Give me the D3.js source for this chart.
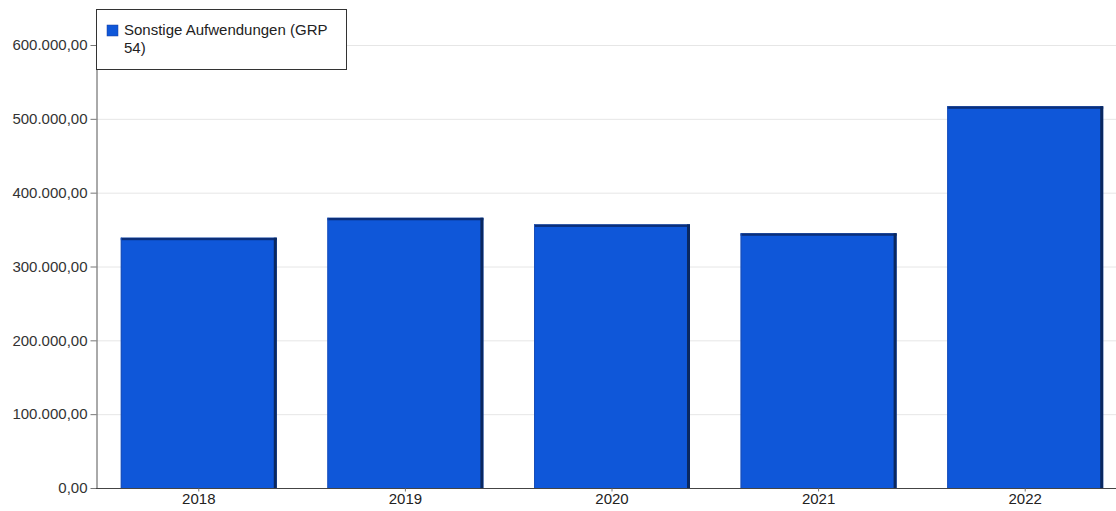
<!DOCTYPE html>
<html><head><meta charset="utf-8">
<script src="https://cdn.jsdelivr.net/npm/d3@7"></script>
<style>body{margin:0;background:#fff;}svg{display:block;font-family:"Liberation Sans",Arial,sans-serif;}</style>
</head><body><svg id="c" width="1116" height="511"></svg>
<script>
const categories = ["2018","2019","2020","2021","2022"];
const values = [339000, 366000, 357000, 345000, 517000];
const yTicks = [0,100000,200000,300000,400000,500000,600000];
const seriesName = ["Sonstige Aufwendungen (GRP", "54)"];

const svg = d3.select("#c");
const mLeft = 96, mRight = 1128, mTop = 45, mBottom = 488;
const x = d3.scaleBand().domain(categories).range([mLeft, mRight]).paddingInner(0.245).paddingOuter(0.12);
const y = d3.scaleLinear().domain([0, 600000]).range([mBottom, mTop]);
const fmt = v => d3.format(",.2f")(v).replace(/,/g,"X").replace(/\./g,",").replace(/X/g,".");

// grid
svg.append("g").selectAll("line").data(yTicks.slice(1)).join("line")
  .attr("x1", mLeft).attr("x2", 1116).attr("y1", d=>y(d)+0.5).attr("y2", d=>y(d)+0.5)
  .attr("stroke", "#e6e6e6").attr("stroke-width", 1);

// bars
const bars = svg.append("g");
categories.forEach((c,i)=>{
  const x0 = x(c), w = x.bandwidth(), y0 = y(values[i]), h = mBottom - y0;
  bars.append("rect").attr("x", x0).attr("y", y0).attr("width", w).attr("height", h).attr("fill", "#0f57d9");
  bars.append("rect").attr("x", x0).attr("y", y0).attr("width", w).attr("height", 2.5).attr("fill", "#0b2f7a");
  bars.append("rect").attr("x", x0 + w - 3).attr("y", y0).attr("width", 3).attr("height", h).attr("fill", "#0a2860");
  bars.append("rect").attr("x", x0).attr("y", y0).attr("width", 1).attr("height", h).attr("fill", "#1a4fb8");
});

// y axis
const ya = svg.append("g").attr("transform", `translate(${mLeft+0.5},0)`)
  .call(d3.axisLeft(y).tickValues(yTicks).tickFormat(fmt).tickSize(6).tickSizeOuter(0));
ya.select(".domain").attr("stroke", "#555");
ya.selectAll(".tick line").attr("stroke", "#777");
ya.selectAll("text").attr("font-size", 15).attr("fill", "#333").attr("font-family","Liberation Sans, Arial, sans-serif").attr("x", -9);

// x axis
const xa = svg.append("g").attr("transform", `translate(0,${mBottom+0.5})`)
  .call(d3.axisBottom(x).tickSize(3).tickSizeOuter(0));
xa.select(".domain").attr("stroke", "#444").attr("d", `M${mLeft},0H1116`);
xa.selectAll(".tick line").attr("stroke", "#777");
xa.selectAll("text").attr("font-size", 15).attr("fill", "#222").attr("font-family","Liberation Sans, Arial, sans-serif")
  .attr("y", 15.5).attr("dy", 0);

// legend
const lg = svg.append("g");
lg.append("rect").attr("x", 96.5).attr("y", 9.5).attr("width", 250).attr("height", 60)
  .attr("fill", "#fff").attr("stroke", "#333").attr("stroke-width", 1);
lg.append("rect").attr("x", 107).attr("y", 25).attr("width", 11).attr("height", 11).attr("fill", "#0f57d9").attr("stroke","#1a3f9a").attr("stroke-width",0.5);
lg.selectAll("text.l").data(seriesName).join("text").attr("class","l")
  .attr("x", 124).attr("y", (d,i)=>35 + i*18).attr("font-size", 15).attr("fill", "#222").text(d=>d);
</script></body></html>
